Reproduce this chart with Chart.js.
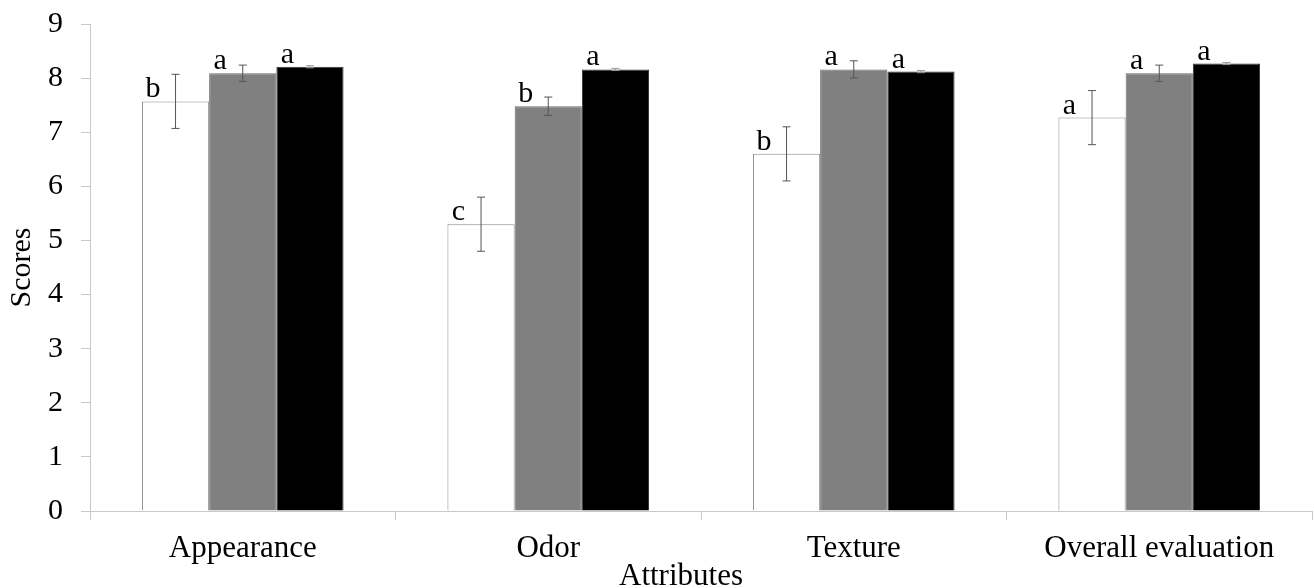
<!DOCTYPE html>
<html>
<head>
<meta charset="utf-8">
<script src="https://cdn.jsdelivr.net/npm/chart.js@4"></script>
<style>
html,body{margin:0;padding:0;background:#fff;}
#wrap{width:1314px;height:588px;}
</style>
</head>
<body>
<div id="wrap"><canvas id="c" width="1314" height="588"></canvas></div>
<script>
const categories = ["Appearance", "Odor", "Texture", "Overall evaluation"];
const seriesWhite = [7.57, 5.30, 6.60, 7.27];
const seriesGray  = [8.09, 7.48, 8.16, 8.09];
const seriesBlack = [8.21, 8.16, 8.12, 8.27];
const errWhite = [0.50, 0.50, 0.50, 0.50];
const errGray  = [0.15, 0.17, 0.16, 0.15];
const errBlack = [0.02, 0.02, 0.02, 0.02];
const lettersWhite = ["b", "c", "b", "a"];
const lettersGray  = ["a", "b", "a", "a"];
const lettersBlack = ["a", "a", "a", "a"];
const yTicks = [0,1,2,3,4,5,6,7,8,9];
const xTitle = "Attributes";
const yTitle = "Scores";

const FONT = "'Liberation Serif', 'Times New Roman', serif";

const errorPlugin = {
  id: 'errLetters',
  afterDatasetsDraw(chart) {
    const ctx = chart.ctx;
    const y = chart.scales.y;
    chart.data.datasets.forEach((ds, di) => {
      const meta = chart.getDatasetMeta(di);
      meta.data.forEach((bar, i) => {
        const v = ds.data[i];
        const e = ds.errors[i];
        const x = bar.x;
        const yt = y.getPixelForValue(v + e);
        const yb = y.getPixelForValue(v - e);
        ctx.save();
        ctx.strokeStyle = di === 2 ? '#999' : '#555';
        ctx.lineWidth = 1;
        ctx.beginPath();
        ctx.moveTo(x, yt); ctx.lineTo(x, yb);
        ctx.moveTo(x - 4, yt); ctx.lineTo(x + 4, yt);
        ctx.moveTo(x - 4, yb); ctx.lineTo(x + 4, yb);
        ctx.stroke();
        ctx.fillStyle = '#000';
        ctx.font = "30px " + FONT;
        ctx.textAlign = 'center';
        ctx.textBaseline = 'alphabetic';
        const left = bar.x - bar.width / 2;
        ctx.fillText(ds.letters[i], left + 11, bar.y - 4);
        ctx.restore();
      });
    });
    const xs = chart.scales.x;
    ctx.save();
    ctx.fillStyle = '#000';
    ctx.font = "31px " + FONT;
    ctx.textAlign = 'center';
    ctx.textBaseline = 'alphabetic';
    ctx.fillText(xTitle, (xs.left + xs.right) / 2 - 20, xs.bottom - 3);
    ctx.restore();
  }
};

new Chart(document.getElementById('c'), {
  type: 'bar',
  data: {
    labels: categories,
    datasets: [
      { data: seriesWhite, errors: errWhite, letters: lettersWhite, backgroundColor: '#ffffff', borderColor: '#8a8a8a', borderWidth: 1 },
      { data: seriesGray, errors: errGray, letters: lettersGray, backgroundColor: '#808080', borderColor: '#6a6a6a', borderWidth: 1 },
      { data: seriesBlack, errors: errBlack, letters: lettersBlack, backgroundColor: '#000000', borderColor: '#333', borderWidth: 1 }
    ]
  },
  options: {
    responsive: false,
    animation: false,
    devicePixelRatio: 1,
    layout: { padding: { top: 24, right: 2, left: 0, bottom: 0 } },
    plugins: { legend: { display: false }, tooltip: { enabled: false } },
    datasets: { bar: { categoryPercentage: 0.66, barPercentage: 1.0 } },
    scales: {
      x: {
        afterFit: (axis) => { axis.height = 77; axis.paddingLeft = 0; axis.paddingRight = 0; },
        grid: { display: true, offset: true, drawOnChartArea: false, drawTicks: true, tickLength: 9, color: '#c8c8c8' },
        border: { display: true, color: '#c8c8c8', width: 1 },
        ticks: { color: '#000', font: { family: FONT, size: 31 }, padding: 10, maxRotation: 0 },
        title: { display: false }
      },
      y: {
        min: 0, max: 9,
        afterFit: (axis) => { axis.width = 90; axis.paddingTop = 0; axis.paddingBottom = 0; },
        afterBuildTicks: (axis) => { axis.ticks = yTicks.map(v => ({ value: v })); },
        grid: { display: true, drawOnChartArea: false, drawTicks: true, tickLength: 9, color: '#c8c8c8' },
        border: { display: true, color: '#c8c8c8', width: 1 },
        ticks: { color: '#000', font: { family: FONT, size: 30 }, padding: 18 },
        title: { display: true, text: yTitle, color: '#000', font: { family: FONT, size: 30 }, padding: { top: 4, bottom: 0 } }
      }
    }
  },
  plugins: [errorPlugin]
});
</script>
</body>
</html>
